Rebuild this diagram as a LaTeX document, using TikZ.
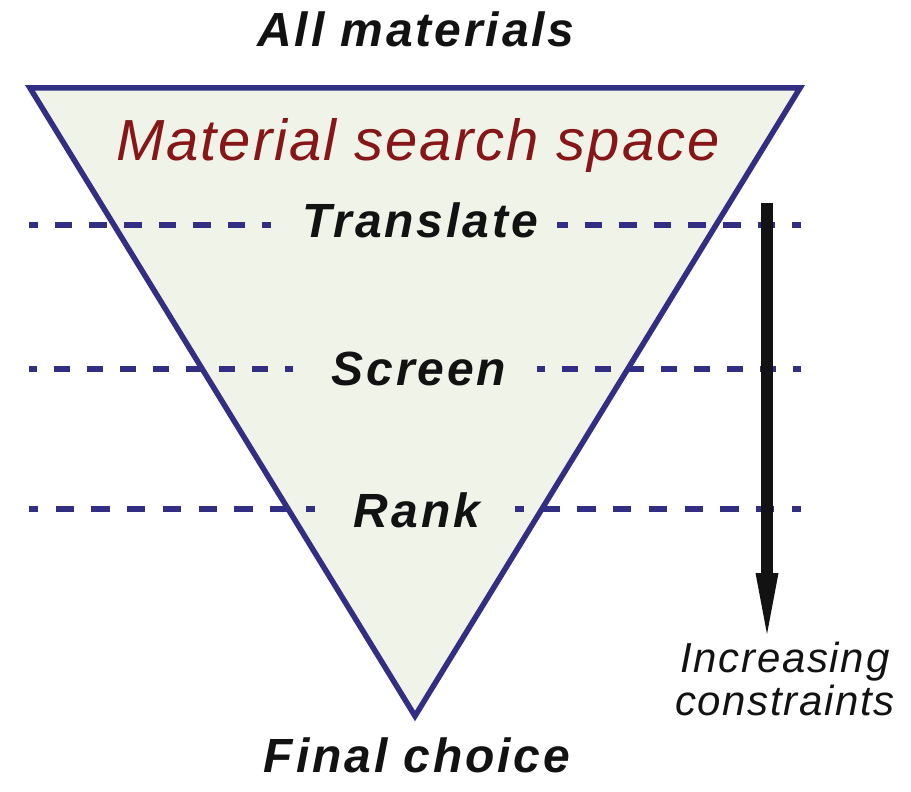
\documentclass[tikz,border=0pt]{standalone}
\usepackage{fontspec}
\setmainfont{Liberation Sans}
\newfontfamily\stagefont[LetterSpace=6]{Liberation Sans}
\newfontfamily\spacefont[LetterSpace=3.5]{Liberation Sans}
\newfontfamily\notefont[LetterSpace=4]{Liberation Sans}
\usetikzlibrary{arrows.meta}

\definecolor{funnelblue}{RGB}{50,46,132}
\definecolor{funnelfill}{RGB}{240,244,232}
\definecolor{spacered}{RGB}{134,22,24}
\definecolor{inkblack}{RGB}{18,18,18}

\tikzset{
  funnel/.style={draw=funnelblue, fill=funnelfill, line width=5.5pt, line join=miter},
  stagelabel/.style={anchor=base, inner sep=0pt, text=inkblack,
    font=\stagefont\bfseries\itshape\fontsize{48}{56}\selectfont},
  spacelabel/.style={anchor=base, inner sep=0pt, text=spacered,
    font=\spacefont\itshape\fontsize{58}{68}\selectfont},
  notelabel/.style={anchor=base, inner sep=0pt, text=inkblack, align=center,
    font=\notefont\itshape\fontsize{42}{43}\selectfont},
  % dashes: on / off / phase, so each segment starts and ends on a short dash
  stageline/.style n args={3}{draw=funnelblue, line width=6pt,
    dash pattern=on #1pt off #2pt, dash phase=#3pt},
  constraintarrow/.style={draw=inkblack, line width=12pt,
    -{Triangle[length=61pt, width=23pt, line width=0pt]}}
}

\begin{document}
\begin{tikzpicture}[x=1pt, y=-1pt]
  \useasboundingbox (0,0) rectangle (911,792);

  % the funnel of candidate materials
  \coordinate (topleft) at (30,88);
  \coordinate (topright) at (800,88);
  \coordinate (apex) at (415,716);
  \filldraw[funnel] (topleft) -- (topright) -- (apex) -- cycle;

  % titles at the wide and narrow ends
  \node[stagelabel] (allmat) at (416,47) {All materials};
  \node[stagelabel] (final) at (417,772) {Final choice};
  \node[spacelabel] (space) at (418,160) {Material search space};

  % stage labels
  \node[stagelabel] (translate) at (420,237) {Translate};
  \node[stagelabel] (screen) at (419,385) {Screen};
  \node[stagelabel] (rank) at (417,527) {Rank};

  % dashed levels, broken around each stage label
  \coordinate (tleft) at (29,225);   \coordinate (tleftend) at (271,225);
  \coordinate (tright) at (801,225); \coordinate (trightend) at (557,225);
  \coordinate (sleft) at (29,369);   \coordinate (sleftend) at (293,369);
  \coordinate (sright) at (801,369); \coordinate (srightend) at (537,369);
  \coordinate (rleft) at (29,509);   \coordinate (rleftend) at (315,509);
  \coordinate (rright) at (801,509); \coordinate (rrightend) at (515,509);

  \draw[stageline={17.6}{17}{8.8}] (tleft) -- (tleftend);
  \draw[stageline={17.6}{17}{8.8}] (tright) -- (trightend);
  \draw[stageline={16.8}{16.2}{8.4}] (sleft) -- (sleftend);
  \draw[stageline={16.8}{16.2}{8.4}] (sright) -- (srightend);
  \draw[stageline={18.2}{17.55}{9.1}] (rleft) -- (rleftend);
  \draw[stageline={18.2}{17.55}{9.1}] (rright) -- (rrightend);

  % direction of tightening constraints
  \coordinate (arrowtop) at (767,203);
  \coordinate (arrowtip) at (767,634);
  \draw[constraintarrow] (arrowtop) -- (arrowtip);
  \node[notelabel] (constraints) at (785,715) {Increasing\\constraints};
\end{tikzpicture}
\end{document}
